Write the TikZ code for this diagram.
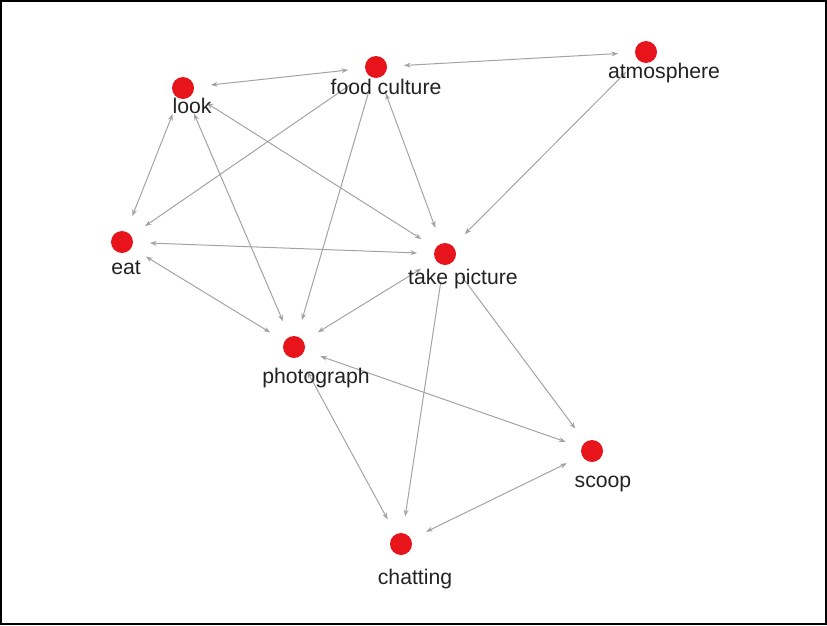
\documentclass[tikz,border=0pt]{standalone}
\usepackage{fontspec}
\setmainfont{Liberation Sans}
\usetikzlibrary{arrows.meta,backgrounds}
\definecolor{nodered}{HTML}{E8141C}
\definecolor{edgegray}{HTML}{A3A3A3}
\definecolor{labelgray}{HTML}{222222}
\begin{document}
\begin{tikzpicture}[x=0.75pt,y=-0.75pt,
  vertex/.style={circle,fill=nodered,draw=none,minimum size=16.5pt,inner sep=0pt},
  lbl/.style={anchor=base,inner sep=0pt,text=labelgray,font=\fontsize{15.9}{18}\selectfont},
  link/.style={draw=edgegray,line width=0.75pt,shorten <=12.5pt,shorten >=12.5pt},
  both/.style={link,{Stealth[length=5pt,width=3.6pt]}-{Stealth[length=5pt,width=3.6pt]}},
  one/.style={link,-{Stealth[length=5pt,width=3.6pt]}}]
\useasboundingbox (0,0) rectangle (827,625);
\draw[black,line width=1.5pt] (1,1) rectangle (826,624);
% vertices
\node[vertex] (look) at (183,88) {};
\node[vertex] (food) at (376,67) {};
\node[vertex] (atmo) at (646,52) {};
\node[vertex] (eat) at (122,242) {};
\node[vertex] (take) at (445,254) {};
\node[vertex] (photo) at (294,347) {};
\node[vertex] (scoop) at (592,451) {};
\node[vertex] (chat) at (401,544) {};
% labels
\node[lbl] (llook) at (192,113) {look};
\node[lbl] (lfood) at (386,94) {food culture};
\node[lbl] (latmo) at (664,78) {atmosphere};
\node[lbl] (leat) at (126,274) {eat};
\node[lbl] (ltake) at (463,284) {take picture};
\node[lbl] (lphoto) at (316,383) {photograph};
\node[lbl] (lscoop) at (603,487) {scoop};
\node[lbl] (lchat) at (415,584) {chatting};
% edges
\begin{pgfonlayer}{background}
\draw[both] (look) -- (food);
\draw[both] (food) -- (atmo);
\draw[both] (atmo) -- (take);
\draw[one] (food) -- (eat);
\draw[both] (look) -- (eat);
\draw[both] (look) -- (take);
\draw[both] (look) -- (photo);
\draw[one] (food) -- (photo);
\draw[both] (food) -- (take);
\draw[both] (eat) -- (take);
\draw[both] (eat) -- (photo);
\draw[both] (take) -- (photo);
\draw[one] (take) -- (chat);
\draw[one] (take) -- (scoop);
\draw[both] (photo) -- (scoop);
\draw[both] (photo) -- (chat);
\draw[both] (scoop) -- (chat);
\end{pgfonlayer}
\end{tikzpicture}
\end{document}
